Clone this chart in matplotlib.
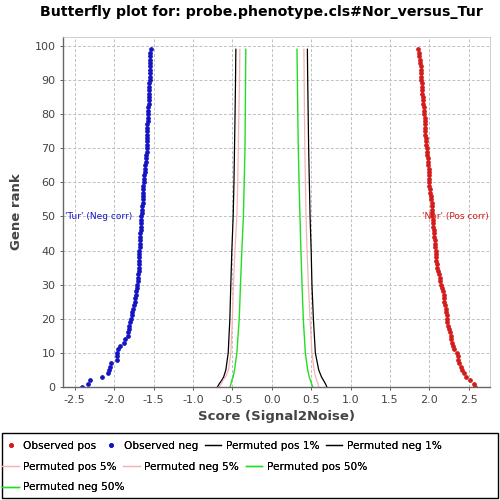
import matplotlib
matplotlib.use("Agg")
import matplotlib.pyplot as plt
from matplotlib.patches import Rectangle

# ---- data ----
obs_pos = [2.58, 2.57, 2.51, 2.47, 2.44, 2.41, 2.40, 2.38, 2.37, 2.36,
           2.35, 2.31, 2.30, 2.29, 2.28, 2.27, 2.26, 2.25, 2.24, 2.23,
           2.22, 2.22, 2.21, 2.21, 2.20, 2.19, 2.18, 2.18, 2.17, 2.16,
           2.15, 2.14, 2.13, 2.12, 2.11, 2.10, 2.10, 2.09, 2.09, 2.08,
           2.08, 2.07, 2.07, 2.07, 2.06, 2.06, 2.06, 2.05, 2.05, 2.05,
           2.04, 2.04, 2.03, 2.03, 2.03, 2.02, 2.02, 2.01, 2.01, 2.00,
           2.00, 2.00, 1.99, 1.99, 1.99, 1.98, 1.98, 1.98, 1.97, 1.97,
           1.97, 1.96, 1.96, 1.96, 1.95, 1.95, 1.95, 1.94, 1.94, 1.94,
           1.93, 1.93, 1.93, 1.92, 1.92, 1.92, 1.91, 1.91, 1.91, 1.91,
           1.90, 1.90, 1.90, 1.89, 1.89, 1.88, 1.88, 1.87, 1.87, 1.86]
obs_neg = [-2.41, -2.33, -2.31, -2.15, -2.08, -2.06, -2.05, -2.04, -1.97, -1.96,
           -1.96, -1.95, -1.93, -1.88, -1.86, -1.83, -1.82, -1.81, -1.81, -1.80,
           -1.79, -1.78, -1.77, -1.76, -1.75, -1.74, -1.73, -1.72, -1.72, -1.71,
           -1.71, -1.70, -1.70, -1.70, -1.69, -1.69, -1.69, -1.68, -1.68, -1.68,
           -1.68, -1.67, -1.67, -1.67, -1.67, -1.67, -1.66, -1.66, -1.66, -1.66,
           -1.66, -1.65, -1.65, -1.65, -1.64, -1.64, -1.64, -1.63, -1.63, -1.63,
           -1.62, -1.62, -1.62, -1.61, -1.61, -1.61, -1.60, -1.60, -1.60, -1.59,
           -1.59, -1.59, -1.59, -1.58, -1.58, -1.58, -1.58, -1.58, -1.57, -1.57,
           -1.57, -1.57, -1.57, -1.56, -1.56, -1.56, -1.56, -1.56, -1.56, -1.56,
           -1.55, -1.55, -1.55, -1.55, -1.55, -1.54, -1.54, -1.54, -1.54, -1.53]
obs_rank = list(range(len(obs_pos)))

perm_rank = [0, 1, 2, 3, 5, 10, 20, 30, 40, 50, 60, 70, 80, 90, 99]
perm_pos_1 = [0.70, 0.68, 0.655, 0.63, 0.596, 0.553, 0.528, 0.51, 0.50, 0.486, 0.477, 0.468, 0.462, 0.456, 0.452]
perm_neg_1 = [-0.69, -0.665, -0.634, -0.61, -0.583, -0.553, -0.532, -0.52, -0.507, -0.49, -0.48, -0.473, -0.466, -0.46, -0.456]
perm_pos_5 = [0.596, 0.585, 0.57, 0.555, 0.537, 0.51, 0.486, 0.464, 0.448, 0.435, 0.427, 0.42, 0.415, 0.411, 0.408]
perm_neg_5 = [-0.668, -0.64, -0.617, -0.585, -0.55, -0.52, -0.50, -0.486, -0.468, -0.443, -0.432, -0.425, -0.418, -0.41, -0.405]
perm_pos_50 = [0.52, 0.505, 0.49, 0.475, 0.456, 0.426, 0.40, 0.384, 0.37, 0.358, 0.346, 0.337, 0.330, 0.325, 0.32]
perm_neg_50 = [-0.528, -0.518, -0.507, -0.49, -0.473, -0.443, -0.413, -0.397, -0.38, -0.36, -0.35, -0.34, -0.336, -0.333, -0.33]

x_ticks = [-2.5, -2.0, -1.5, -1.0, -0.5, 0.0, 0.5, 1.0, 1.5, 2.0, 2.5]
y_ticks = [0, 10, 20, 30, 40, 50, 60, 70, 80, 90, 100]

# ---- plot ----
fig = plt.figure(figsize=(5, 5), dpi=100)
ax = fig.add_axes([0.126, 0.226, 0.854, 0.700])

red = '#d41c1c'
blue = '#1414c4'
pink = '#f5b4b4'
green = '#22dd22'

h_op, = ax.plot(obs_pos, obs_rank, linestyle='none', marker='o', markersize=2.4,
                color=red, label='Observed pos')
h_on, = ax.plot(obs_neg, obs_rank, linestyle='none', marker='o', markersize=2.4,
                color=blue, label='Observed neg')
h_p1, = ax.plot(perm_pos_1, perm_rank, color='black', lw=0.9, label='Permuted pos 1%')
h_n1, = ax.plot(perm_neg_1, perm_rank, color='black', lw=0.9, label='Permuted neg 1%')
h_p5, = ax.plot(perm_pos_5, perm_rank, color=pink, lw=0.9, label='Permuted pos 5%')
h_n5, = ax.plot(perm_neg_5, perm_rank, color=pink, lw=0.9, label='Permuted neg 5%')
h_p50, = ax.plot(perm_pos_50, perm_rank, color=green, lw=1.0, label='Permuted pos 50%')
h_n50, = ax.plot(perm_neg_50, perm_rank, color=green, lw=1.0, label='Permuted neg 50%')

ax.set_xlim(-2.65, 2.77)
ax.set_ylim(0, 102.6)
ax.set_xticks(x_ticks)
ax.set_xticklabels([f'{v:.1f}' for v in x_ticks])
ax.set_yticks(y_ticks)
ax.tick_params(labelsize=8, colors='#444444', length=2, width=0.6)
ax.grid(True, linestyle=(0, (3, 2)), color='#c0c0c0', linewidth=0.7)
ax.set_axisbelow(True)
for s in ['top', 'right']:
    ax.spines[s].set_color('#c8c8c8')
    ax.spines[s].set_linewidth(0.6)
for s in ['left', 'bottom']:
    ax.spines[s].set_color('#666666')
    ax.spines[s].set_linewidth(1.0)

ax.set_xlabel('Score (Signal2Noise)', fontsize=9.5, fontweight='bold', color='#444444', labelpad=4)
ax.set_ylabel('Gene rank', fontsize=9.5, fontweight='bold', color='#444444', labelpad=8)
fig.text(0.523, 0.976, 'Butterfly plot for: probe.phenotype.cls#Nor_versus_Tur',
         ha='center', va='center', fontsize=10.2, fontweight='bold')

ax.text(-2.63, 50, "'Tur' (Neg corr)", color=blue, fontsize=6.5, ha='left', va='center')
ax.text(2.76, 50, "'Nor' (Pos corr)", color=red, fontsize=6.5, ha='right', va='center')

# legend box
fig.patches.append(Rectangle((0.004, 0.004), 0.992, 0.13, transform=fig.transFigure,
                             fill=False, edgecolor='black', linewidth=1.0))
rows = [([h_op, h_on, h_p1, h_n1], 0.108),
        ([h_p5, h_n5, h_p50], 0.067),
        ([h_n50], 0.025)]
for handles, yy in rows:
    leg = fig.legend(handles=handles, loc='center left', bbox_to_anchor=(0.0, yy),
                     ncol=len(handles), frameon=False, fontsize=7.6,
                     handlelength=1.6, handletextpad=0.4, columnspacing=0.6,
                     borderaxespad=0.0, borderpad=0.2)
    fig.add_artist(leg)

fig.savefig('out.png', dpi=100)
